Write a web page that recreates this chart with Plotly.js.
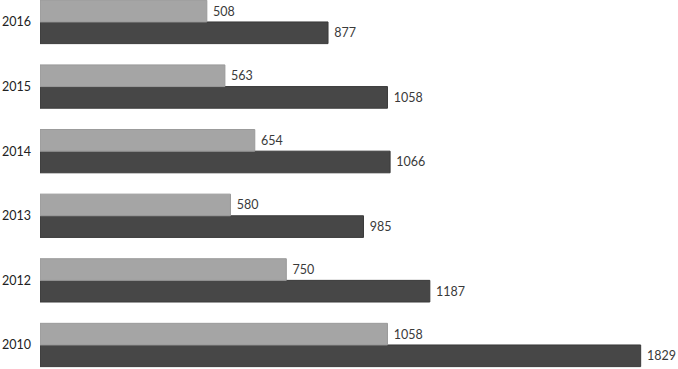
<!DOCTYPE html>
<html><head><meta charset="utf-8">
<script src="https://cdn.plot.ly/plotly-3.0.1.min.js"></script>
<style>html,body{margin:0;padding:0;background:#fff}#c{width:678px;height:369px}</style>
</head><body><div id="c"></div>
<script>
const years = ['2010','2012','2013','2014','2015','2016'];
const lightValues = [1058, 750, 580, 654, 563, 508];
const darkValues = [1829, 1187, 985, 1066, 1058, 877];

const pad = '\u00a0';
const font = {family: 'Lato, "Open Sans", sans-serif', size: 12.5, color: '#3a3a3a'};
const traces = [
  {type:'bar', orientation:'h', y: years, x: darkValues, name:'dark',
   marker:{color:'#474747', line:{color:'#3a3a3a', width:1}},
   text: darkValues.map(v => pad + v), textposition:'outside', cliponaxis:false,
   textfont:font, hoverinfo:'none'},
  {type:'bar', orientation:'h', y: years, x: lightValues, name:'light',
   marker:{color:'#a5a5a5', line:{color:'#9a9a9a', width:1}},
   text: lightValues.map(v => pad + v), textposition:'outside', cliponaxis:false,
   textfont:font, hoverinfo:'none'}
];
const layout = {
  width:678, height:369,
  margin:{l:40, r:14, t:0, b:0},
  paper_bgcolor:'#fff', plot_bgcolor:'#fff',
  barmode:'group', bargap:0.33, bargroupgap:0,
  showlegend:false,
  xaxis:{range:[0,1900], showgrid:false, zeroline:false, showticklabels:false, showline:false},
  yaxis:{type:'category', categoryarray:years, range:[-0.372, 5.34], showgrid:false,
         zeroline:false, showline:false, ticks:'', ticklabelstandoff:8,
         tickfont:{family:'Lato, "Open Sans", sans-serif', size:12.5, color:'#222'}},
  font:font
};
Plotly.newPlot('c', traces, layout, {staticPlot:true});
</script></body></html>
